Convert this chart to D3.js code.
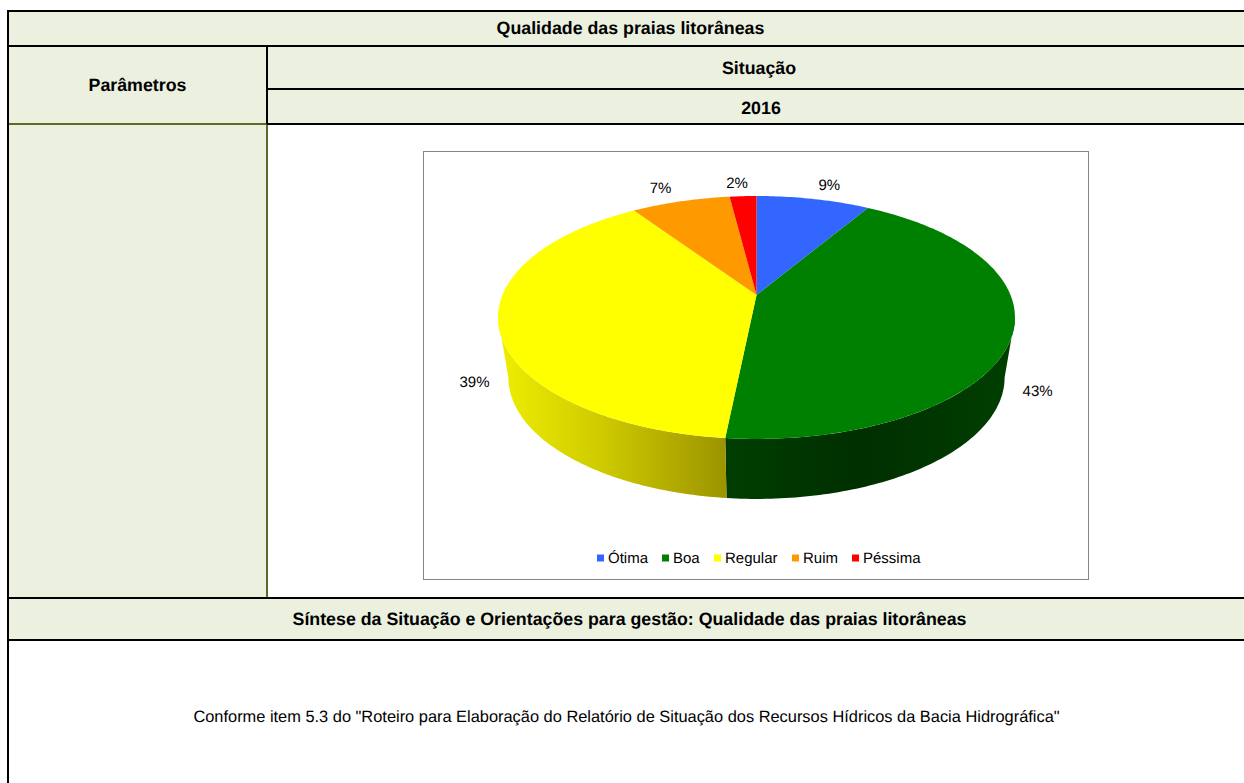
<!DOCTYPE html>
<html>
<head>
<meta charset="utf-8">
<script src="https://cdn.jsdelivr.net/npm/d3@7"></script>
<style>
    html, body { margin: 0; padding: 0; background: #fff; }
    svg { display: block; }
    text { font-family: "Liberation Sans", Arial, sans-serif; fill: #000; text-rendering: geometricPrecision; }
</style>
</head>
<body>
<svg id="chart" width="1244" height="783"></svg>
<script>
// values
let categories = ["Ótima", "Boa", "Regular", "Ruim", "Péssima"];
let shares = [8.5, 43.1, 39.0, 7.4, 2.0];
let shareLabels = ["9%", "43%", "39%", "7%", "2%"];
let colors = ["#3366ff", "#008000", "#ffff00", "#ff9900", "#ff0000"];

let title = "Qualidade das praias litorâneas";
let paramHeader = "Parâmetros";
let situationHeader = "Situação";
let yearHeader = "2016";
let synthesisHeader = "Síntese da Situação e Orientações para gestão: Qualidade das praias litorâneas";
let bodyNote = "Conforme item 5.3 do \"Roteiro para Elaboração do Relatório de Situação dos Recursos Hídricos da Bacia Hidrográfica\"";

// label nudges from the rim point, px
let labelNudge = [[16, -13], [25, 58], [-24, 58], [-20, -13], [-6, -13]];

let svg = d3.select("#chart");
let W = 1244, H = 783;
let cellFill = "#ebf0df", olive = "#5a6b2a";

// table rows and columns
let xLeft = 8, xCol = 267;
let yTop = 11, yRow1 = 46, yRow2 = 89, yRow3 = 124, yRow4 = 598, yRow5 = 640;

let table = svg.append("g");
table.append("rect").attr("x", xLeft).attr("y", yTop).attr("width", W - xLeft).attr("height", yRow3 - yTop).attr("fill", cellFill);
table.append("rect").attr("x", xLeft).attr("y", yRow3).attr("width", xCol - xLeft).attr("height", yRow4 - yRow3).attr("fill", cellFill);
table.append("rect").attr("x", xLeft).attr("y", yRow4).attr("width", W - xLeft).attr("height", yRow5 - yRow4).attr("fill", cellFill);

function rule(x1, y1, x2, y2, color){
    table.append("line")
        .attr("x1", x1).attr("y1", y1).attr("x2", x2).attr("y2", y2)
        .attr("stroke", color || "#000").attr("stroke-width", 2);
}
rule(xLeft, yRow3, xCol, yRow3, olive);
rule(xCol, yRow3, xCol, yRow4, olive);
rule(xLeft, yTop - 1, xLeft, H);
rule(xLeft, yTop, W, yTop);
rule(xLeft, yRow1, W, yRow1);
rule(xCol, yRow1, xCol, yRow3);
rule(xCol, yRow2, W, yRow2);
rule(xCol, yRow3, W, yRow3);
rule(xLeft, yRow4, W, yRow4);
rule(xLeft, yRow5, W, yRow5);

function cellText(str, x, y, size, bold){
    svg.append("text")
        .attr("x", x).attr("y", y)
        .attr("text-anchor", "middle")
        .attr("dominant-baseline", "central")
        .attr("font-size", size)
        .attr("font-weight", bold ? "bold" : "normal")
        .text(str);
}
cellText(title, 630.5, 27.5, 17.8, true);
cellText(paramHeader, 137.5, 84.5, 17.8, true);
cellText(situationHeader, 759, 67.5, 17.8, true);
cellText(yearHeader, 761, 108, 17.8, true);
cellText(synthesisHeader, 629.5, 618.5, 17.8, true);
cellText(bodyNote, 626.5, 717, 16.4, false);

// chart frame
svg.append("rect")
    .attr("x", 423.5).attr("y", 151.5).attr("width", 665).attr("height", 428)
    .attr("fill", "#fff").attr("stroke", "#868686");

// pie seen in perspective: a circle pushed through a homography
let cx = 756.5, cy = 295, k = 0.185, a = 117.3, b = 254;
let depth = 60, shrinkX = 0.96;

function rim(theta, lower){
    let X = Math.sin(theta), Y = Math.cos(theta), w = 1 + k * Y;
    return [cx + (lower ? shrinkX : 1) * b * X / w, cy + (lower ? depth : 0) - a * Y / w];
}

let arcs = d3.pie().sort(null)(shares);
let line = d3.line();

function samples(start, end){
    let n = Math.max(2, Math.ceil((end - start) * 60));
    return d3.range(n + 1).map(i => start + (end - start) * i / n);
}

// only the front of the wall shows, between the two side extremes of the rim
let frontStart = Math.acos(-k), frontEnd = 2 * Math.PI - frontStart;

let defs = svg.append("defs");
let wallStops = {
    1: [[726, "#003e00"], [860, "#002f00"], [1015, "#003f00"]],
    2: [[498, "#eeee00"], [600, "#cfcb00"], [726, "#9c9400"]]
};
Object.keys(wallStops).forEach(i => {
    let stops = wallStops[i];
    let g = defs.append("linearGradient")
        .attr("id", "wall" + i)
        .attr("gradientUnits", "userSpaceOnUse")
        .attr("x1", stops[0][0]).attr("x2", stops[stops.length - 1][0])
        .attr("y1", 0).attr("y2", 0);
    let offset = d3.scaleLinear().domain([stops[0][0], stops[stops.length - 1][0]]).range([0, 1]);
    g.selectAll("stop").data(stops).join("stop")
        .attr("offset", s => offset(s[0]))
        .attr("stop-color", s => s[1]);
});

let pieG = svg.append("g");

pieG.selectAll("path.wall").data(arcs.filter(d => d.endAngle > frontStart && d.startAngle < frontEnd)).join("path")
    .attr("class", "wall")
    .attr("fill", d => "url(#wall" + d.index + ")")
    .attr("d", d => {
        let t = samples(Math.max(d.startAngle, frontStart), Math.min(d.endAngle, frontEnd));
        let pts = t.map(v => rim(v, false)).concat(t.slice().reverse().map(v => rim(v, true)));
        return line(pts) + "Z";
    });

pieG.selectAll("path.top").data(arcs).join("path")
    .attr("class", "top")
    .attr("fill", (d, i) => colors[i])
    .attr("d", d => line([[cx, cy]].concat(samples(d.startAngle, d.endAngle).map(v => rim(v, false)))) + "Z");

// data labels
svg.selectAll("text.share").data(arcs).join("text")
    .attr("class", "share")
    .attr("text-anchor", "middle")
    .attr("dominant-baseline", "central")
    .attr("font-size", 15)
    .attr("fill", "#1a1a1a")
    .attr("x", (d, i) => rim((d.startAngle + d.endAngle) / 2, false)[0] + labelNudge[i][0])
    .attr("y", (d, i) => rim((d.startAngle + d.endAngle) / 2, false)[1] + labelNudge[i][1])
    .text((d, i) => shareLabels[i]);

// legend
let legendX = d3.scaleOrdinal().domain(categories).range([597, 662, 714, 792, 852]);
let legend = svg.selectAll("g.legend").data(categories).join("g")
    .attr("class", "legend")
    .attr("transform", d => "translate(" + legendX(d) + ",554.5)");
legend.append("rect")
    .attr("width", 7).attr("height", 7)
    .attr("fill", (d, i) => colors[i]);
legend.append("text")
    .attr("x", 11).attr("y", 4)
    .attr("dominant-baseline", "central")
    .attr("font-size", 15)
    .text(d => d);
</script>
</body>
</html>
